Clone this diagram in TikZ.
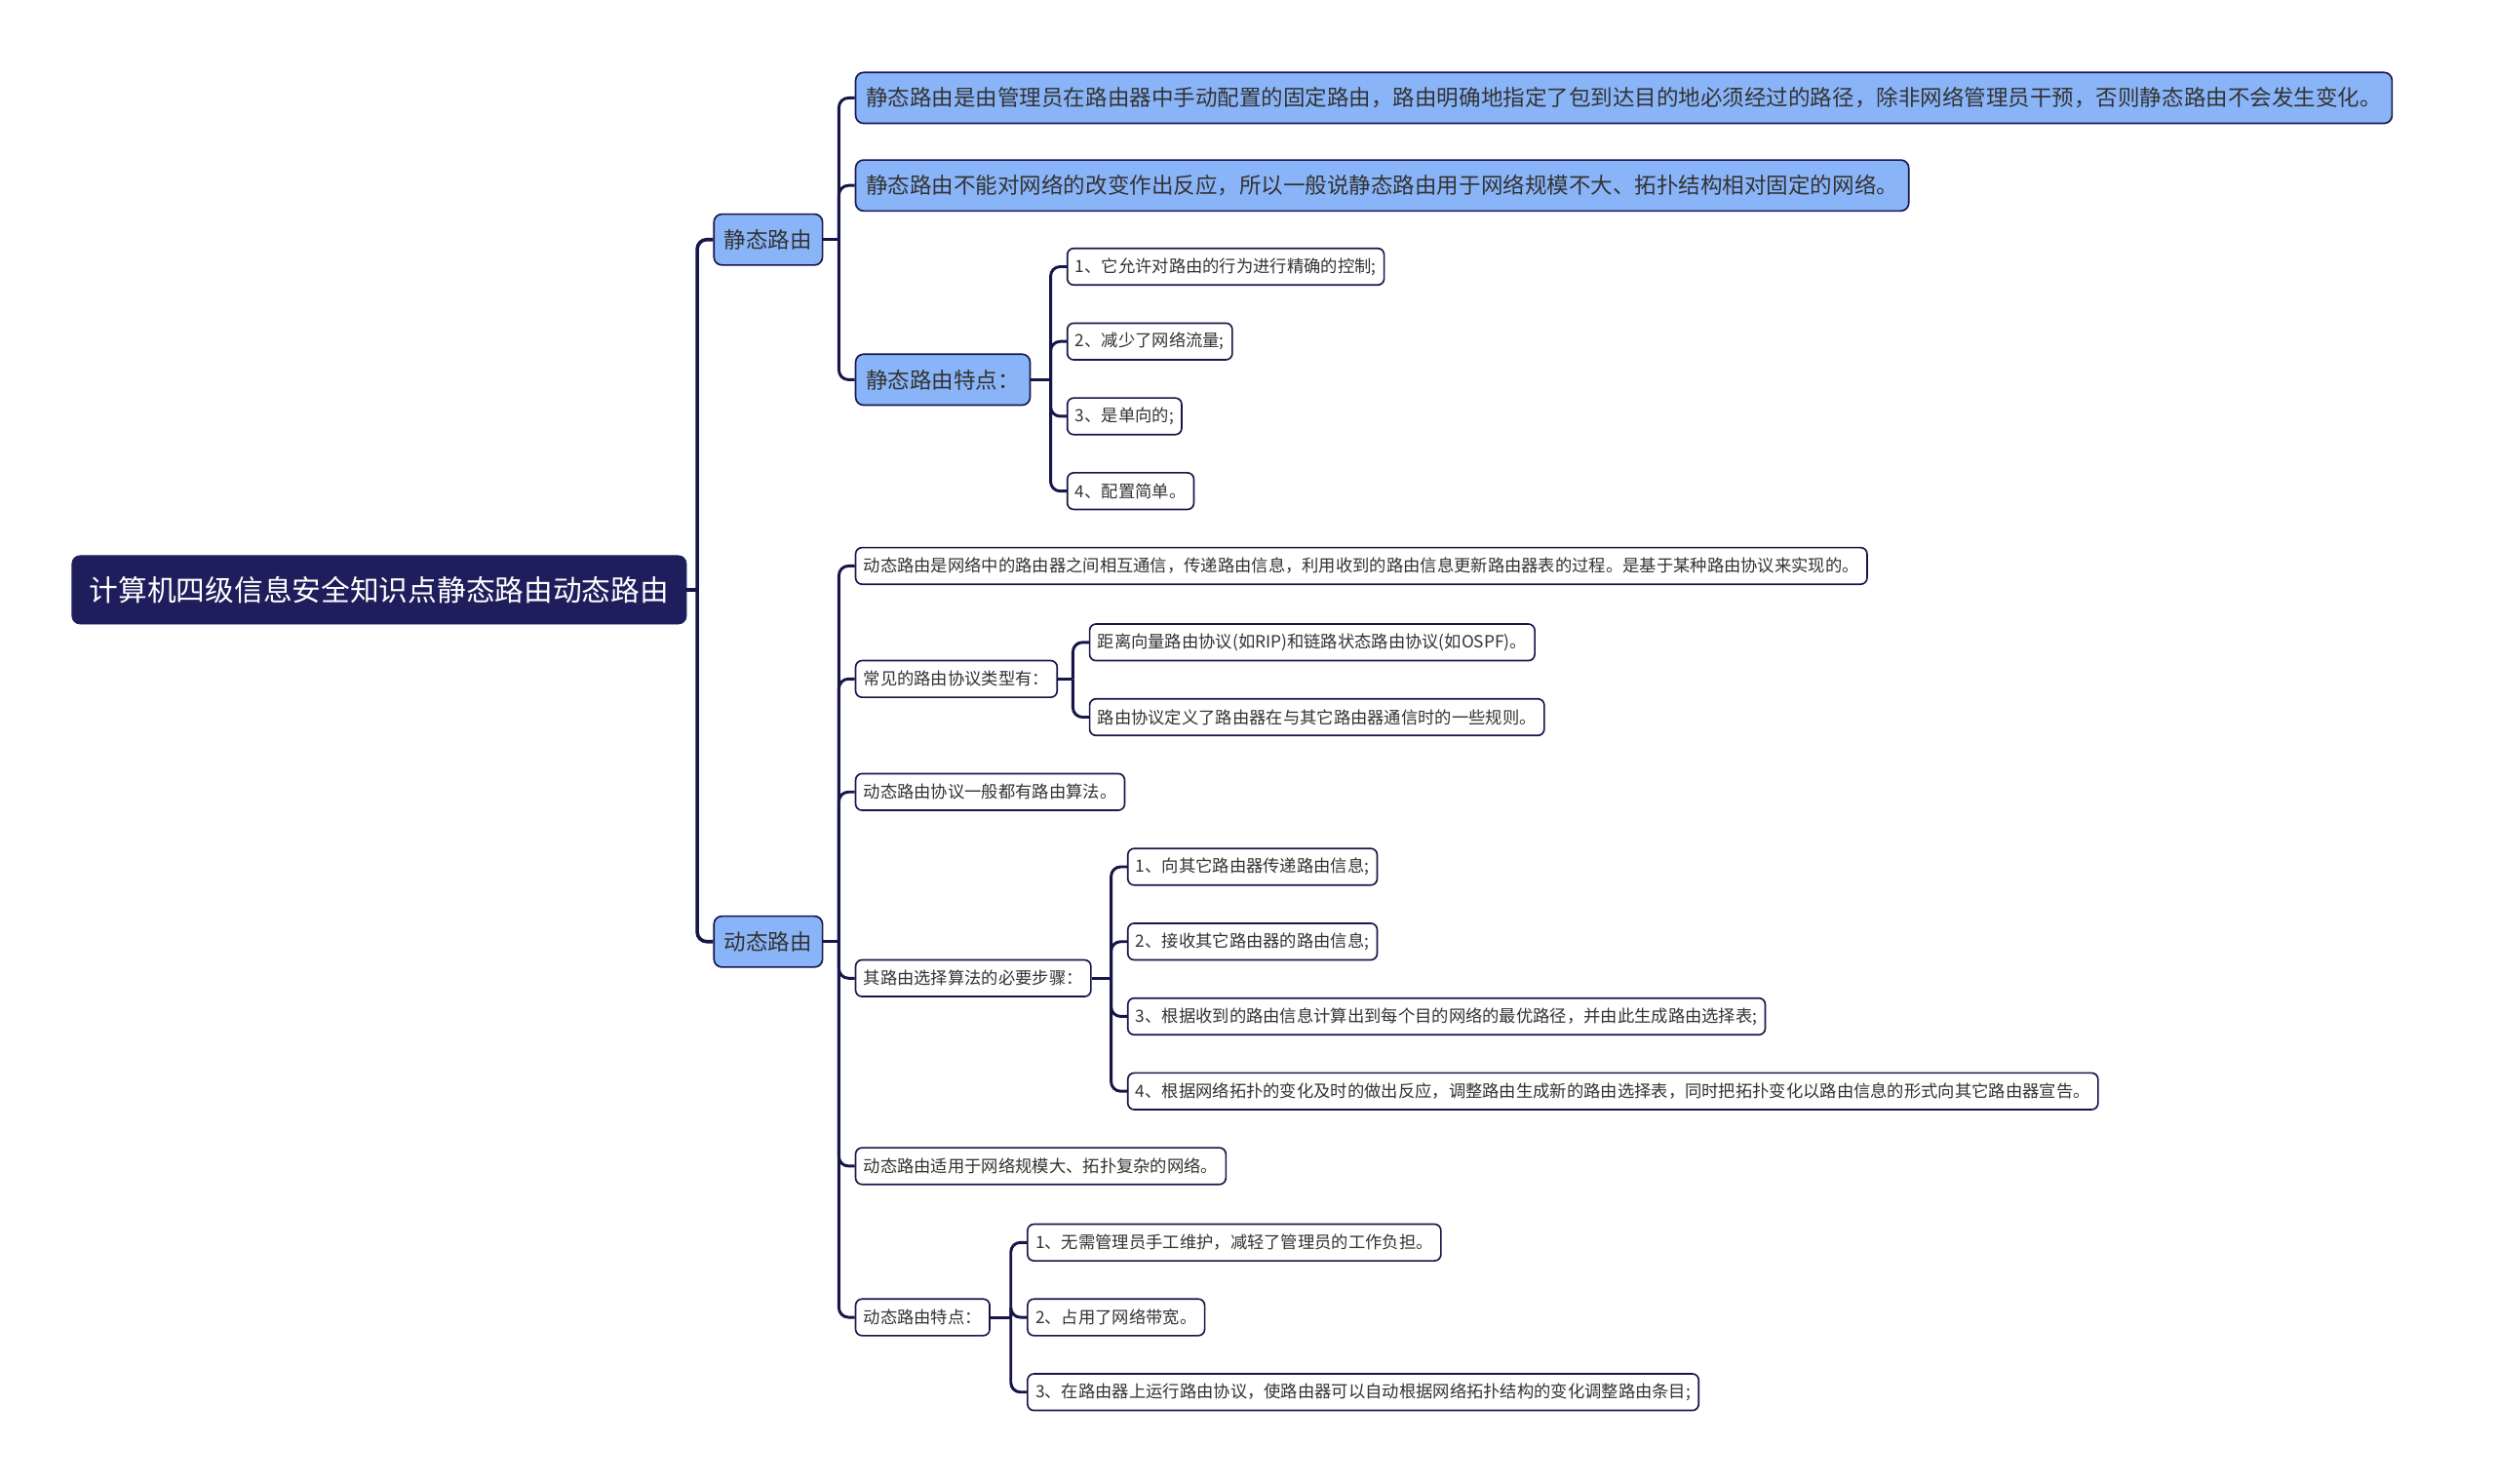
\documentclass[tikz,border=0pt]{standalone}
\usepackage{fontspec}
\newfontfamily\cjk{Noto Sans CJK SC}
\usetikzlibrary{positioning}
\definecolor{navy}{HTML}{1E1E5C}
\definecolor{lineNavy}{HTML}{16164A}
\definecolor{topicBlue}{HTML}{8AB4F8}
\definecolor{textGray}{HTML}{333333}
\tikzstyle{rootBox} = [draw=navy, fill=navy, rounded corners=5pt,
   text=white, font=\cjk\fontsize{18.2}{20}\selectfont,
   minimum height=43pt, inner xsep=11pt, anchor=west]
\tikzstyle{blueBox} = [draw=lineNavy, line width=1pt, fill=topicBlue,
   rounded corners=5pt, text=black!80, font=\cjk\fontsize{13.8}{16}\selectfont,
   minimum height=32pt, inner xsep=6.5pt, anchor=west]
\tikzstyle{whiteBox} = [draw=lineNavy, line width=1pt, fill=white,
   rounded corners=4pt, text=textGray, font=\cjk\fontsize{10.6}{13}\selectfont,
   minimum height=23pt, inner xsep=5pt, anchor=west]
\tikzstyle{branch} = [draw=lineNavy, line width=1.8pt, rounded corners=6pt]
\begin{document}
\begin{tikzpicture}[x=1pt, y=-1pt]
  \useasboundingbox (0,0) rectangle (1568,932);
  \node[rootBox] (root) at (45,370.5) {计算机四级信息安全知识点静态路由动态路由};
  \node[blueBox] (st) at (448,150.5) {静态路由};
  \node[blueBox] (dy) at (448,591.5) {动态路由};
  % static branch
  \node[blueBox] (stdef) at (537,61.5) {静态路由是由管理员在路由器中手动配置的固定路由，路由明确地指定了包到达目的地必须经过的路径，除非网络管理员干预，否则静态路由不会发生变化。};
  \node[blueBox] (stuse) at (537,116.5) {静态路由不能对网络的改变作出反应，所以一般说静态路由用于网络规模不大、拓扑结构相对固定的网络。};
  \node[blueBox] (stfeat) at (537,238.5) {静态路由特点：};
  \node[whiteBox] (sf1) at (670,167.5) {1、它允许对路由的行为进行精确的控制;};
  \node[whiteBox] (sf2) at (670,214.5) {2、减少了网络流量;};
  \node[whiteBox] (sf3) at (670,261.5) {3、是单向的;};
  \node[whiteBox] (sf4) at (670,308.5) {4、配置简单。};
  % dynamic branch
  \node[whiteBox] (dydef) at (537,355.5) {动态路由是网络中的路由器之间相互通信，传递路由信息，利用收到的路由信息更新路由器表的过程。是基于某种路由协议来实现的。};
  \node[whiteBox] (dyproto) at (537,426.5) {常见的路由协议类型有：};
  \node[whiteBox] (dp1) at (684,403.5) {距离向量路由协议(如RIP)和链路状态路由协议(如OSPF)。};
  \node[whiteBox] (dp2) at (684,450.5) {路由协议定义了路由器在与其它路由器通信时的一些规则。};
  \node[whiteBox] (dyalgo) at (537,497.5) {动态路由协议一般都有路由算法。};
  \node[whiteBox] (dysteps) at (537,614.5) {其路由选择算法的必要步骤：};
  \node[whiteBox] (ds1) at (708,544.5) {1、向其它路由器传递路由信息;};
  \node[whiteBox] (ds2) at (708,591.5) {2、接收其它路由器的路由信息;};
  \node[whiteBox] (ds3) at (708,638.5) {3、根据收到的路由信息计算出到每个目的网络的最优路径，并由此生成路由选择表;};
  \node[whiteBox] (ds4) at (708,685.5) {4、根据网络拓扑的变化及时的做出反应，调整路由生成新的路由选择表，同时把拓扑变化以路由信息的形式向其它路由器宣告。};
  \node[whiteBox] (dyuse) at (537,732.5) {动态路由适用于网络规模大、拓扑复杂的网络。};
  \node[whiteBox] (dyfeat) at (537,827.5) {动态路由特点：};
  \node[whiteBox] (df1) at (645,780.5) {1、无需管理员手工维护，减轻了管理员的工作负担。};
  \node[whiteBox] (df2) at (645,827.5) {2、占用了网络带宽。};
  \node[whiteBox] (df3) at (645,874.5) {3、在路由器上运行路由协议，使路由器可以自动根据网络拓扑结构的变化调整路由条目;};
  % junctions
  \coordinate (jroot) at (438,370.5);
  \coordinate (jst) at (527,150.5);
  \coordinate (jdy) at (527,591.5);
  \coordinate (jstfeat) at (660,238.5);
  \coordinate (jproto) at (674,426.5);
  \coordinate (jsteps) at (698,614.5);
  \coordinate (jfeat) at (635,827.5);
  \draw[branch, line width=2.2pt] (root.east) -- (jroot);
  \foreach \c in {st,dy} \draw[branch, line width=2.2pt] (jroot) |- (\c.west);
  \draw[branch] (st.east) -- (jst);
  \foreach \c in {stdef,stuse,stfeat} \draw[branch] (jst) |- (\c.west);
  \draw[branch] (stfeat.east) -- (jstfeat);
  \foreach \c in {sf1,sf2,sf3,sf4} \draw[branch] (jstfeat) |- (\c.west);
  \draw[branch] (dy.east) -- (jdy);
  \foreach \c in {dydef,dyproto,dyalgo,dysteps,dyuse,dyfeat} \draw[branch] (jdy) |- (\c.west);
  \draw[branch] (dyproto.east) -- (jproto);
  \foreach \c in {dp1,dp2} \draw[branch] (jproto) |- (\c.west);
  \draw[branch] (dysteps.east) -- (jsteps);
  \foreach \c in {ds1,ds2,ds3,ds4} \draw[branch] (jsteps) |- (\c.west);
  \draw[branch] (dyfeat.east) -- (jfeat);
  \foreach \c in {df1,df2,df3} \draw[branch] (jfeat) |- (\c.west);
\end{tikzpicture}
\end{document}
